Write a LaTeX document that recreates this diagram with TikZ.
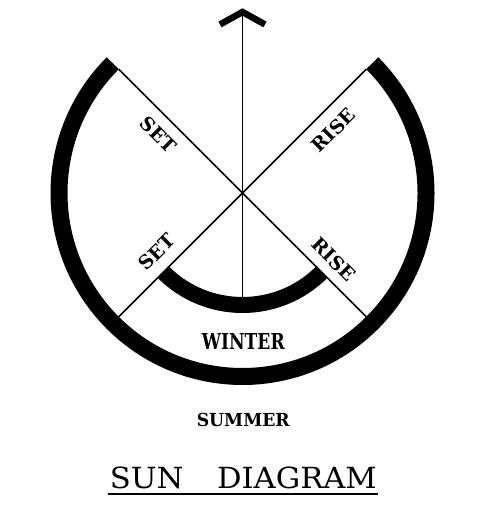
\documentclass[tikz,border=0pt]{standalone}
\usepackage{graphicx}
\usepackage{fontspec}
\setmainfont{DejaVu Serif}
\usetikzlibrary{calc}
\begin{document}
\begin{tikzpicture}[x=1bp,y=1bp,
  thickarc/.style={line width=17bp},
  innerarc/.style={line width=16bp},
  thinline/.style={line width=1.6bp},
  lab/.style={font=\bfseries\fontsize{19}{20}\selectfont, inner sep=0pt}]
\useasboundingbox (0,0) rectangle (485,531);
\coordinate (C) at (242.5,338);
\coordinate (UL) at ($(C)+(135:175)$);
\coordinate (LR) at ($(C)+(-45:175)$);
\coordinate (UR) at ($(C)+(45:175)$);
\coordinate (LL) at ($(C)+(225:175)$);
\coordinate (B) at ($(C)+(0,-104)$);
\coordinate (Apex) at (242.5,519);
\coordinate (AL) at (220,506.5);
\coordinate (AR) at (265,506.5);
\draw[thinline] (UL) -- (LR);
\draw[thinline] (UR) -- (LL);
\draw[thinline] (Apex) -- (B);
\draw[line width=6.5bp, line join=miter] (AL) -- (Apex) -- (AR);
\draw[thickarc] ($(C)+(135:183.5)$) arc[start angle=135,end angle=405,radius=183.5bp];
\draw[innerarc] ($(C)+(225:112)$) arc[start angle=225,end angle=315,radius=112bp];
\node[lab, rotate=-45] (set1) at (158.5,396) {SET};
\node[lab, rotate=45] (rise1) at (333.5,401) {RISE};
\node[lab, rotate=45] (set2) at (156.5,279) {SET};
\node[lab, rotate=-45] (rise2) at (333.5,271.5) {RISE};
\node[inner sep=0pt] (winter) at (243.3,189.5) {\resizebox{83bp}{16bp}{\bfseries WINTER}};
\node[inner sep=0pt] (summer) at (243.3,111) {\resizebox{93bp}{13.3bp}{\bfseries SUMMER}};
\node[inner sep=0pt] (title) at (243.3,53.5) {\resizebox{267bp}{21.6bp}{SUN\hspace{1.1em}DIAGRAM}};
\coordinate (ul1) at (108,36.7);
\coordinate (ul2) at (378,36.7);
\draw[line width=2bp] (ul1) -- (ul2);
\end{tikzpicture}
\end{document}
